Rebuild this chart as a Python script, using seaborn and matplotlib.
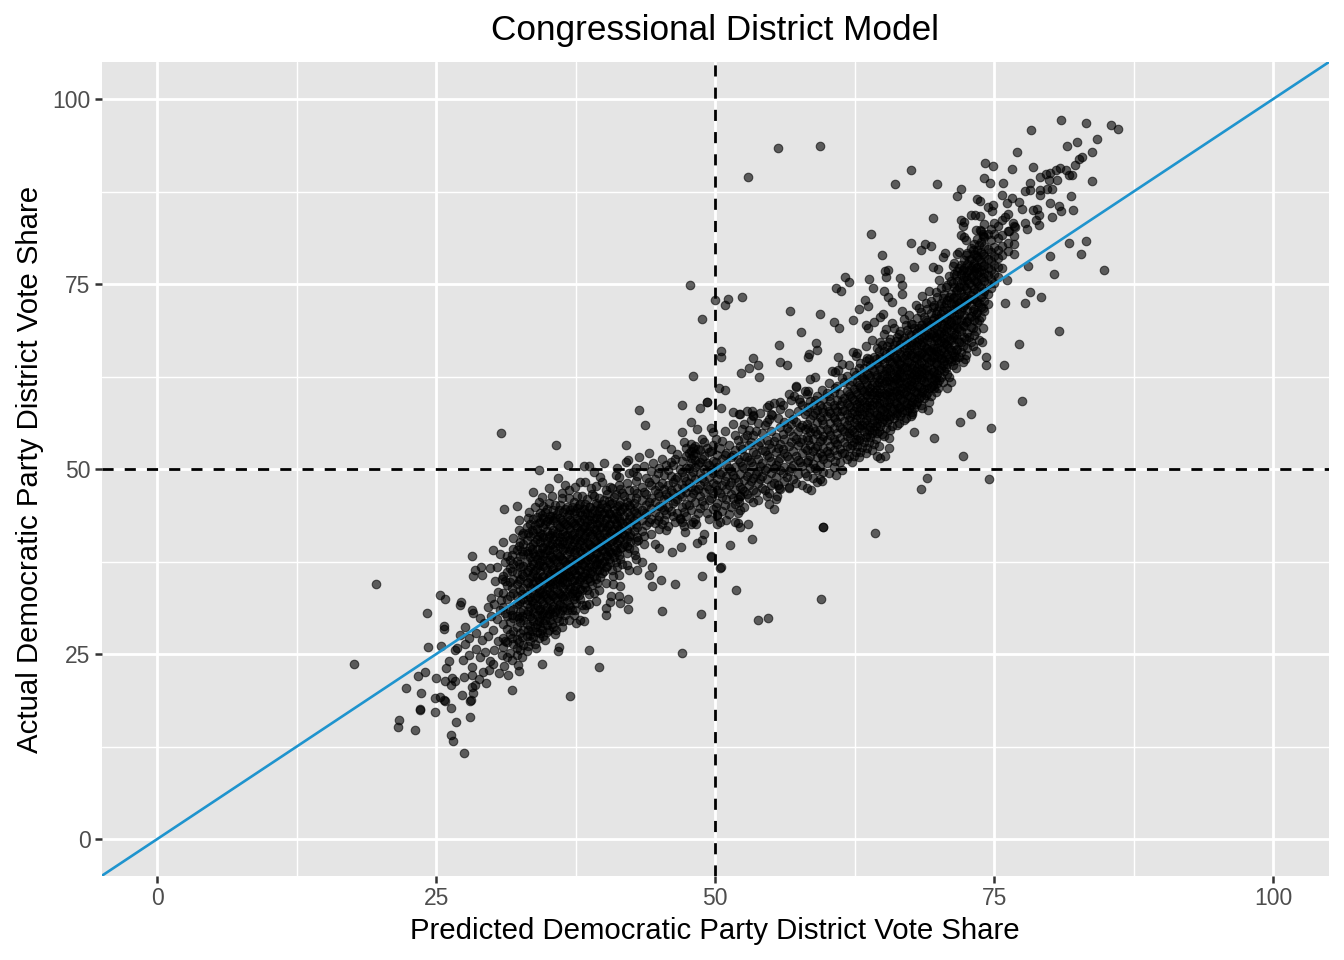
import matplotlib
matplotlib.use("Agg")
import matplotlib.pyplot as plt
import pandas as pd
import seaborn as sns

title = "Congressional District Model"
x_label = "Predicted Democratic Party District Vote Share"
y_label = "Actual Democratic Party District Vote Share"
major_ticks = [0, 25, 50, 75, 100]
minor_ticks = [12.5, 37.5, 62.5, 87.5]

tail_points = [(17.6,23.6),(19.6,34.4),(21.7,16.1),(21.6,15.2),(23.1,14.7),(22.3,20.4),(23.6,19.7),(23.5,17.6),(23.5,17.4),(24.9,17.2),(24.9,19),(25.3,19.2),(25.7,18.8),(25.8,18.6),(26.3,17.7),(26.8,15.8),(26.3,14),(26.5,13.2),(27.5,11.6),(28,16.5),(27.3,19.4),(28,18.6),(28.1,18.8),(28.3,19.7),(23.4,22),(24,22.6),(25,21.7),(25.8,21.4),(26.3,20.8),(26.7,21.4),(26.4,21.7),(27.5,21.9),(28.2,20.6),(28.5,20.8),(29.5,21.1),(29.2,22.6),(28.2,22.2),(28.2,23.3),(25.9,23.1),(26.1,24),(24.3,26),(25.4,26.1),(26.7,25.6),(26.9,25.8),(27.6,26.4),(24.2,30.5),(25.3,33),(25.8,32.4),(27.1,31.6),(27.2,32),(25.7,28.4),(25.7,28.8),(27.6,28.6),(28.2,31),(28.3,30.5),(28.2,38.3),(28.3,35.6),(28.5,36.4),(29,36.7),(29.1,35.7),(29.8,36.6),(30.4,36.8),(30.1,39.1),(30.7,38.5),(31.3,38.3),(31,40.2),(31.9,40.7),(31.1,44.6),(32.2,45),(30.8,54.9),(35.7,53.3),(34.2,49.9),(35.9,48.8),(36.8,50.6),(33.7,46.9),(34.2,45.6),(34.6,45),(33.3,44.2),(32.4,43.1),(32.8,41.3),(31.8,20.2),(37,19.3),(34.5,23.7),(32.4,22.7),(32.3,23.5),(31.1,23.4),(30.1,23.6),(38.7,25.6),(39.6,23.2),(47,25.2),(36,26),(35.9,25.4),(33.9,25.8),(33.1,25.4),(32.2,25.8),(28.9,24.6),(29.4,25.3),(29.8,24.1),(30.2,25.6),(30.5,26.8),(29.1,26.9),(28.6,27.8),(29.6,27.4),(30.1,28.3),(29.3,29.2),(28.9,29.8),(29.9,30.1),(30.4,29.7),(29.6,31.4),(30.2,31.8),(30.7,30.9),(29.9,32.6),(30.5,33.4),(30.8,32.3),(30.3,34.8),(30.9,35.1),(27.9,24.9),(27.4,24.2),(28.6,25.7),(27.9,27.1),(27.1,27.6),(30.6,22.4),(30.9,24.9),(29.7,22.9),(28.8,21.6),(31.4,22.2)]

right_of_core = [(40.8,35.5),(40.8,34.4),(41.5,34.2),(40.7,32.9),(41.4,32.9),(42.2,32.4),(40.6,32),(41.5,31.9),(42.2,31.1),(40.2,31.2),(40.2,30.3),(39.3,32.2),(38.4,31.6),(38.7,31.8),(37.5,31.9),(37.5,29.2),(37.9,29.6),(38.2,29.4),(35.7,28.3),(34.9,28),(34.3,27.9),(33.4,27.6),(45.2,30.8),(48.7,30.4),(46.4,34.4),(48.8,35.5),(44.3,34.2),(45.1,35),(44.3,36.7),(44.1,35.7),(43,36.3),(42.1,37),(43.4,37.5),(42.8,38.4),(42.1,39.6),(43.1,40.4),(43.6,39.9),(44.6,39.9),(45,39.3),(46.1,38.8),(46.9,39.5),(48.4,40),(48.8,40.4),(49.6,38.2),(47.3,41.5),(47.2,42.3),(47.8,42.6),(48.3,42.6),(46.8,43.2),(50.2,43.8),(50.4,36.6),(43.2,58),(43.7,56),(47,58.6),(48.6,58.3),(49.3,59),(47.8,56.3),(47,55),(48.4,55.4),(49.8,55),(42,53.2),(45.5,53.4),(46,52.7),(46.6,52),(44.1,52.1),(43.2,51.6),(42.2,51.2),(42,50.9),(40,50.8),(38.7,50.4),(38.2,50.4),(41.2,50.2),(44.4,50.8),(45.2,51.3),(46,51),(47.7,74.9),(48.8,70.3),(48,62.6),(53.8,29.6),(54.7,29.9),(59.5,32.4),(59.7,42.2),(51.9,33.6),(50.5,36.8),(49.6,38.1),(51.3,39.7),(50.9,60.7),(37.9,48.2),(38.9,47.4),(39.7,48.9),(36.9,47.1),(37.6,46.4),(40.6,47.6),(41.4,48.9),(42.6,49.6),(39.1,49.6),(35.4,46.4),(36.3,46.1)]

core_columns = [
 (31.0,[25.9,27.2,29.1,31.4,33.2,35.6]),
 (31.3,[24.6,26.6,28.4,30.2,32.5,34.3,36.1]),
 (31.6,[25.2,27.7,29.3,30.9,32.8,34.7,36.6,37.7]),
 (31.9,[26.3,28.1,29.8,31.1,33.3,35.2,37.1,39.2]),
 (32.2,[24.8,27.0,28.6,30.1,31.7,32.9,34.4,36.0,37.6,39.0]),
 (32.5,[25.6,27.9,29.3,30.7,32.2,33.6,35.1,36.7,38.2,40.1]),
 (32.8,[26.2,28.2,29.6,31.0,32.5,33.9,35.5,36.9,38.5,39.8]),
 (33.1,[27.5,29.1,30.4,31.8,33.1,34.6,36.1,37.4,38.9,40.4,42.1]),
 (33.4,[26.8,28.8,30.1,31.4,32.7,34.1,35.3,36.8,38.1,39.5,40.9,42.6]),
 (33.7,[27.3,29.4,30.7,31.9,33.3,34.5,35.9,37.2,38.6,39.9,41.3,43.2]),
 (34.0,[28.0,29.0,30.3,31.6,32.8,34.1,35.4,36.6,37.9,39.2,40.6,41.9,43.5]),
 (34.3,[28.6,29.9,31.1,32.4,33.6,34.8,36.2,37.4,38.7,40.1,41.4,42.8,44.1]),
 (34.6,[27.4,29.2,30.5,31.8,33.0,34.3,35.6,36.9,38.2,39.5,40.8,42.2,43.4]),
 (34.9,[28.9,30.1,31.3,32.6,33.8,35.1,36.4,37.7,39.0,40.3,41.6,43.0,44.6]),
 (35.2,[29.6,30.8,32.0,33.3,34.5,35.8,37.1,38.4,39.7,41.1,42.4,43.7]),
 (35.5,[28.7,30.3,31.5,32.8,34.0,35.3,36.6,37.9,39.2,40.5,41.8,43.1,44.5]),
 (35.8,[29.9,31.1,32.3,33.6,34.8,36.1,37.4,38.7,40.0,41.3,42.6,43.9]),
 (36.1,[30.6,31.8,33.1,34.3,35.6,36.9,38.2,39.5,40.8,42.1,43.4,45.2]),
 (36.4,[29.4,31.3,32.6,33.9,35.2,36.4,37.7,39.0,40.3,41.6,42.9,44.2]),
 (36.7,[30.9,32.2,33.4,34.7,36.0,37.2,38.5,39.8,41.1,42.4,43.7,44.8]),
 (37.0,[31.4,32.9,34.1,35.4,36.6,37.9,39.2,40.5,41.8,43.1,44.4]),
 (37.3,[30.3,32.5,33.7,35.0,36.3,37.5,38.8,40.1,41.4,42.7,44.0,45.6]),
 (37.6,[33.2,34.5,35.7,37.0,38.2,39.5,40.8,42.1,43.4,44.7]),
 (37.9,[32.4,33.8,35.1,36.4,37.7,39.0,40.3,41.6,42.9,44.2,45.3]),
 (38.2,[31.1,34.4,35.6,36.9,38.1,39.4,40.7,42.0,43.3,44.6]),
 (38.5,[33.6,35.2,36.4,37.7,38.9,40.2,41.5,42.8,44.1,45.9]),
 (38.8,[34.8,36.0,37.2,38.4,39.7,41.0,42.3,43.6,44.9]),
 (39.1,[33.3,35.6,36.8,38.0,39.3,40.6,41.9,43.2,44.5,46.3]),
 (39.4,[34.6,36.3,37.5,38.7,40.0,41.3,42.6,43.9,45.2]),
 (39.7,[35.4,37.1,38.3,39.6,40.8,42.1,43.4,44.7]),
 (40.0,[36.2,37.6,38.9,40.1,41.4,42.7,44.0,45.8]),
 (40.3,[36.9,38.3,39.5,40.8,42.1,43.4,44.6,46.6]),
 (40.6,[37.4,38.8,40.1,41.3,42.6,43.9,45.3]),
 (40.9,[38.1,39.4,40.6,41.9,43.2,44.5,46.2]),
 (41.2,[36.7,38.8,40.0,41.2,42.4,43.7,45.0]),
 (41.5,[37.9,39.3,40.7,41.8,43.0,44.3,45.6,47.3]),
 (41.8,[39.9,41.1,42.3,43.6,44.9,46.4]),
 (42.1,[38.6,40.6,41.7,42.9,44.2,45.5,48.1]),
 (42.4,[40.2,41.2,42.5,43.7,44.8,46.1]),
 (42.7,[39.1,41.6,43.1,44.3,45.4,47.2]),
 (43.0,[40.8,42.2,43.6,44.9,46.7,49.1]),
]

core_infill = [
 (31.17,[26.7,30.6,34.9,37.4]),
 (31.77,[24.2,27.1,30.3,33.9,36.2,38.4]),
 (32.37,[26.6,29.9,31.9,34.8,37.1,39.6,41.7]),
 (32.67,[24.6,27.3,30.1,33.1,35.8,38.9,41.1]),
 (33.23,[26.1,28.3,30.8,32.3,34.7,36.3,38.6,41.4,43.4]),
 (33.57,[28.1,29.8,32.1,33.8,35.6,37.6,39.2,41.8]),
 (33.87,[26.4,28.6,31.2,32.6,34.9,36.3,38.3,40.2,42.5,44.8]),
 (34.17,[27.2,29.5,30.9,33.2,35.0,37.0,38.4,40.9,42.7]),
 (34.47,[28.3,30.3,32.1,33.4,35.4,37.7,39.3,41.2,43.8,46.2]),
 (34.77,[26.9,29.6,31.0,33.1,34.6,36.7,38.6,40.0,42.6,44.2]),
 (35.07,[28.2,30.4,32.3,34.1,35.5,37.4,39.1,40.8,43.3,45.4,47.4]),
 (35.37,[29.1,31.1,33.0,34.9,36.3,38.1,39.9,41.4,43.6]),
 (35.67,[27.7,30.7,32.7,34.4,35.9,37.8,39.4,41.0,43.4,45.1]),
 (35.97,[29.4,31.6,33.3,35.1,36.8,38.3,40.3,42.2,44.4]),
 (36.27,[28.6,30.9,32.9,34.7,36.0,37.9,39.8,41.2,43.1,46.8]),
 (36.57,[30.3,32.8,34.4,35.7,37.4,39.3,40.9,42.6,44.6,47.9]),
 (36.87,[29.6,31.6,33.8,35.6,37.0,38.9,40.4,42.0,43.9,46.1]),
 (37.17,[31.0,33.3,34.8,36.2,37.9,39.6,41.1,42.9,44.8]),
 (37.47,[30.9,32.9,34.2,36.0,37.3,39.1,40.6,42.4,44.3,47.6]),
 (37.77,[33.0,34.9,36.4,37.8,39.8,41.3,43.1,45.2]),
 (38.07,[31.6,33.6,35.4,37.1,38.7,40.4,41.9,43.8,46.3]),
 (38.37,[34.1,35.9,37.4,39.1,40.9,42.3,44.1,45.3,48.2]),
 (38.67,[33.1,35.3,36.8,38.3,39.9,41.6,43.1,44.9]),
 (38.97,[34.3,36.2,37.9,39.5,41.2,42.7,44.0,46.6]),
 (39.27,[35.1,37.2,38.6,40.1,41.7,43.4,45.4,47.7]),
 (39.57,[33.6,36.4,37.9,39.4,41.1,42.8,44.3,46.1]),
 (39.87,[35.9,37.3,39.1,40.4,42.2,43.9,45.3,48.3]),
 (40.17,[34.6,36.8,38.4,39.9,41.8,43.2,44.8,47.1]),
 (40.47,[37.8,39.1,41.0,42.4,44.1,45.7]),
 (40.77,[36.4,38.6,40.3,41.6,43.4,45.4,47.4]),
 (41.07,[37.4,39.1,41.1,42.7,44.0,46.6,49.2]),
 (41.37,[35.7,38.4,40.4,41.9,43.4,45.2,47.9]),
 (41.67,[37.1,39.4,41.3,42.7,44.6,46.7]),
 (42.27,[36.3,39.3,41.0,43.3,45.2,47.1,49.4]),
 (42.87,[37.9,40.3,42.6,44.0,46.1,48.4,50.1]),
]

band_columns = [
 (43.4,[41.6,43.1,44.5,45.8,47.6]),
 (43.8,[42.4,43.9,45.2,46.6,48.8]),
 (44.2,[41.2,43.3,44.7,46.1,47.9,49.7]),
 (44.6,[42.7,44.2,45.5,47.1,48.6]),
 (45.0,[41.9,43.7,45.0,46.4,47.7,50.1]),
 (45.4,[43.1,44.4,45.9,47.3,49.2]),
 (45.8,[42.3,44.9,46.2,47.8,49.9]),
 (46.2,[43.6,45.4,46.8,48.3,50.6]),
 (46.6,[44.1,45.9,47.4,48.9]),
 (47.0,[42.9,44.8,46.3,47.9,49.6,51.1]),
 (47.4,[43.7,45.3,46.9,48.4,50.2,51.8,52.9]),
 (47.8,[44.4,46.2,47.6,49.1,50.8,51.5,52.4,53.4]),
 (48.2,[43.2,45.6,47.1,48.7,50.3,51.2,52.1,53.1]),
 (48.6,[44.7,46.4,47.9,49.4,51.0,52.6]),
 (49.0,[41.2,45.2,46.9,48.4,50.0,51.7,53.6]),
 (49.4,[43.3,45.8,47.3,48.9,50.5,52.3]),
 (49.8,[44.6,46.7,48.1,49.4,51.1,53.2]),
 (50.2,[42.6,45.4,47.2,48.7,50.3,51.9]),
 (50.6,[44.3,46.2,47.8,49.6,51.4,53.8]),
 (51.0,[43.1,45.9,47.3,49.0,50.7,52.2]),
 (51.4,[44.9,46.6,48.2,49.7,51.6]),
 (51.8,[42.9,45.3,47.1,48.8,50.3,52.6,54.6]),
 (52.2,[46.3,47.6,49.3,50.9,53.1,57.5]),
 (52.6,[44.8,47.0,48.5,50.1,51.7,54.2,56.1]),
 (53.0,[46.1,47.9,49.6,51.2,53.3,55.3]),
 (53.4,[47.2,48.8,50.4,52.3,54.6,57.1]),
 (53.8,[45.8,48.1,49.7,51.4,53.2,56.2]),
 (54.2,[47.4,49.1,50.8,52.6,54.8]),
 (54.6,[46.4,48.6,50.2,51.9,53.9,56.4,58.4]),
 (55.0,[47.8,49.4,51.1,52.8,55.2,57.4]),
 (55.4,[45.9,48.9,50.6,52.3,54.3]),
 (55.8,[47.3,49.9,51.5,53.4,55.7,58.1]),
 (56.2,[48.4,50.3,52.1,54.1,56.3]),
 (56.6,[47.6,49.7,51.3,53.1,55.1,57.6,60.2]),
 (57.0,[48.7,50.6,52.4,54.4,56.7]),
 (57.4,[49.3,51.2,53.2,55.2,57.9]),
 (57.8,[47.9,50.4,52.1,54.0,56.0,58.6]),
]

band_infill = [
 (43.62,[40.9,44.1,46.9,50.4]),(44.07,[42.9,45.6,48.3]),(44.83,[43.1,46.7,49.4]),(45.23,[42.6,44.8,48.1]),
 (45.63,[41.7,43.9,46.6,50.6]),(46.03,[44.3,47.1,49.1]),(46.43,[42.8,45.7,48.7,51.4]),(46.83,[43.4,46.6,50.0]),
 (47.23,[44.2,47.4,48.9,53.6]),(47.63,[45.1,48.1,50.1,52.1]),(48.03,[42.9,46.7,49.6,51.9,52.9]),(48.43,[44.0,47.3,50.7,52.7]),
 (48.83,[45.7,48.8,51.4,54.1]),(49.23,[44.1,47.7,50.8,52.9]),(49.63,[46.1,49.9,52.5,55.6]),(50.03,[44.8,47.9,50.9,54.1]),
 (50.43,[42.9,46.8,49.3,52.8]),(50.83,[45.1,48.4,51.9,55.1]),(51.23,[43.9,47.9,50.2,53.3]),(51.63,[46.1,49.2,51.9,56.1]),
 (52.03,[45.9,48.2,51.3,53.9]),(52.43,[47.3,50.4,52.7,55.4]),(52.83,[46.6,49.1,51.6,54.6,57.9]),(53.23,[48.4,50.9,53.7,56.6]),
 (53.63,[46.9,49.3,52.0,55.1]),(54.03,[48.6,50.4,53.6,57.6]),(54.43,[47.1,49.8,52.4,55.9]),(54.83,[46.8,51.6,53.4,56.7]),
 (55.23,[48.1,50.2,53.8,58.9]),(55.63,[47.9,51.1,52.9,56.9]),(56.03,[49.4,52.7,54.7,58.7]),(56.43,[48.9,51.8,55.6]),
 (56.83,[50.1,53.7,56.1,59.3]),(57.23,[48.1,51.7,54.0,56.4,61.1]),(57.63,[50.9,53.6,55.7,59.1]),(58.03,[49.4,52.8,55.4,57.4,60.6]),
]

blob_columns = [
 (58.2,[49.1,50.9,52.6,54.3,56.1,57.8]),
 (58.5,[50.2,51.8,53.3,55.0,56.7,59.2]),
 (58.8,[48.8,50.7,52.4,54.0,55.6,57.3,58.6]),
 (59.1,[49.9,51.6,53.1,54.7,56.4,58.0,59.8]),
 (59.4,[50.6,52.2,53.8,55.3,57.0,58.7]),
 (59.7,[49.6,51.3,52.9,54.5,56.1,57.7,59.4]),
 (60.0,[50.8,52.4,53.9,55.4,57.1,58.5,60.3]),
 (60.3,[51.6,53.1,54.6,56.2,57.6,59.2]),
 (60.6,[50.3,52.6,54.0,55.5,57.0,58.6,60.4]),
 (60.9,[51.9,53.4,54.8,56.3,57.8,59.3,61.2]),
 (61.2,[50.9,52.7,54.2,55.7,57.2,58.7,60.2]),
 (61.5,[52.2,53.6,55.1,56.5,58.0,59.6,61.7]),
 (61.8,[51.3,53.1,54.5,56.0,57.4,58.9,60.6,62.6]),
 (62.1,[52.8,54.2,55.6,57.0,58.4,59.9,61.4]),
 (62.4,[51.7,53.6,55.0,56.4,57.8,59.3,60.8,63.1]),
 (62.7,[53.1,54.6,56.0,57.3,58.8,60.2,61.8]),
 (63.0,[52.3,54.2,55.5,56.9,58.2,59.6,61.1,62.7,64.3]),
 (63.3,[53.6,55.1,56.4,57.8,59.1,60.5,62.1,63.6]),
 (63.6,[52.9,54.7,56.0,57.3,58.7,60.0,61.4,62.9,65.0]),
 (63.9,[54.3,55.7,57.0,58.2,59.6,60.9,62.4,64.1]),
 (64.2,[53.4,55.3,56.6,57.9,59.1,60.4,61.8,63.3,65.2]),
 (64.5,[51.7,54.9,56.2,57.5,58.7,60.0,61.3,62.7,64.3,66.3]),
 (64.8,[55.8,57.1,58.3,59.5,60.8,62.1,63.5,65.1,67.1]),
 (65.1,[54.4,56.7,57.9,59.1,60.3,61.6,62.9,64.3,65.9,68.2]),
 (65.4,[56.3,57.6,58.8,60.0,61.1,62.4,63.7,65.0,66.6]),
 (65.7,[55.3,57.2,58.4,59.5,60.7,61.9,63.2,64.4,65.8,67.6]),
 (66.0,[56.9,58.1,59.2,60.4,61.6,62.8,64.0,65.3,66.7,69.1]),
 (66.3,[55.9,57.6,58.7,59.9,61.1,62.3,63.5,64.7,66.1,67.9]),
 (66.6,[57.1,58.4,59.6,60.7,61.9,63.1,64.3,65.5,66.9,68.6]),
 (66.9,[56.6,58.0,59.2,60.3,61.5,62.6,63.8,65.0,66.3,67.7,70.3]),
 (67.2,[57.8,58.9,60.0,61.1,62.3,63.4,64.6,65.8,67.1,68.8]),
 (67.5,[57.2,58.6,59.7,60.8,61.9,63.0,64.2,65.4,66.7,68.1,69.6]),
 (67.8,[58.3,59.4,60.6,61.7,62.8,64.0,65.2,66.3,67.6,69.0]),
 (68.1,[59.1,60.2,61.3,62.4,63.6,64.8,66.0,67.2,68.5,70.4]),
 (68.4,[58.6,59.9,61.0,62.1,63.2,64.4,65.6,66.8,68.0,69.4,71.2]),
 (68.7,[59.6,60.8,61.9,63.0,64.2,65.4,66.6,67.8,69.1,70.6]),
 (69.0,[60.3,61.4,62.6,63.8,65.0,66.2,67.4,68.6,69.9,71.6]),
 (69.3,[59.8,61.1,62.3,63.5,64.7,65.9,67.1,68.3,69.6,71.1,72.7]),
 (69.6,[60.9,62.1,63.2,64.4,65.6,66.8,68.0,69.2,70.4,72.2]),
 (69.9,[61.6,62.8,64.0,65.2,66.4,67.5,68.7,69.9,71.3,73.3]),
 (70.2,[62.4,63.7,64.9,66.1,67.3,68.5,69.7,70.9,72.4,74.4]),
 (70.5,[63.3,64.6,65.8,67.0,68.2,69.4,70.6,71.9,73.6]),
 (70.8,[62.9,64.2,65.5,66.7,67.9,69.1,70.3,71.5,72.8,74.9]),
 (71.1,[64.6,66.1,67.4,68.7,69.9,71.1,72.4,73.7,75.4]),
 (71.4,[65.3,66.8,68.1,69.4,70.7,72.0,73.3,74.6,76.3]),
 (71.7,[66.2,67.6,69.0,70.3,71.6,72.9,74.2,75.4,76.7]),
 (72.0,[65.8,67.2,68.7,70.1,71.4,72.7,73.9,75.1,76.4,77.6]),
 (72.3,[67.9,69.3,70.8,72.2,73.4,74.7,75.9,77.1,78.3]),
 (72.6,[66.4,68.4,70.0,71.5,72.9,74.2,75.5,76.6,77.7,79.2]),
 (72.9,[67.2,69.2,70.7,72.1,73.5,74.8,76.0,77.1,78.4,79.9]),
 (73.2,[68.1,70.2,71.6,73.0,74.3,75.6,76.7,77.8,79.1,80.4]),
 (73.5,[69.8,71.2,72.6,74.0,75.2,76.3,77.3,78.6,79.6,81.1]),
 (73.8,[70.6,71.9,73.3,74.6,75.8,76.9,78.0,79.3,80.7,82.2]),
 (74.1,[71.4,72.7,74.1,75.4,76.5,77.6,78.8,80.1,81.3,83.1]),
 (74.4,[72.3,73.6,75.0,76.2,77.2,78.4,79.7,81.8]),
 (74.7,[74.4,75.7,76.9,78.1,79.3,80.9,82.4]),
 (75.0,[75.1,76.4,77.6,78.8,80.0,81.7,83.3]),
 (75.3,[76.0,77.3,78.5,79.6,81.2,82.9]),
 (75.7,[77.2,78.9,80.1,81.6,83.6]),
 (76.2,[79.4,80.6,82.1,84.4]),
 (76.8,[79.1,80.4,81.5,82.9]),
]

blob_infill = [
 (58.33,[51.2,53.9,55.6,58.4,60.6]),(58.97,[50.1,52.9,55.1,57.6,59.3,62.4]),(59.57,[48.4,51.7,54.1,56.6,58.2,60.7]),
 (60.17,[49.4,52.1,55.1,57.9,59.8,61.6]),(60.77,[51.1,53.6,56.7,58.2,60.9,63.1]),(61.37,[49.9,52.1,55.4,57.9,59.2,62.3]),
 (61.97,[51.7,54.9,56.6,58.7,60.2,64.1]),(62.27,[50.9,53.2,55.3,57.6,59.6,61.9]),(62.57,[52.3,54.1,56.8,58.4,60.4,62.7,65.3]),
 (62.87,[51.6,53.9,55.7,57.9,59.1,61.3,63.6]),(63.17,[53.0,55.9,57.4,59.3,60.7,62.4]),(63.47,[52.1,54.3,56.6,58.4,60.2,61.8,64.6,66.6]),
 (63.77,[53.6,55.3,57.7,59.1,60.6,62.7,64.8]),(64.07,[52.6,54.9,56.2,58.6,60.1,61.4,63.7,67.4]),(64.37,[54.1,55.8,57.3,59.4,60.7,62.4,64.9]),
 (64.67,[53.1,55.2,56.9,58.9,60.3,61.7,63.9,65.9]),(64.97,[54.7,56.4,58.1,59.9,61.3,62.7,64.8,66.8]),(65.27,[55.6,57.2,58.4,60.2,61.9,63.3,65.6,68.9]),
 (65.57,[54.2,56.8,59.1,60.4,62.0,63.7,65.3,67.1]),(65.87,[55.8,57.9,59.8,61.2,62.4,64.4,66.2,69.7]),(66.17,[57.3,58.9,60.6,62.2,63.2,65.0,67.3]),
 (66.47,[56.2,58.3,60.1,61.6,62.9,64.2,66.4,68.2]),(66.77,[57.7,59.4,60.9,62.4,63.6,65.2,67.4,71.4]),(67.07,[56.9,58.6,60.6,61.8,63.8,65.4,66.7,69.4]),
 (67.37,[58.3,59.9,61.4,62.9,64.4,66.1,68.2,70.8]),(67.67,[57.7,59.1,61.2,62.4,63.7,65.7,67.2,69.6]),(67.97,[58.8,60.4,62.1,63.2,65.0,66.8,68.4,72.1]),
 (68.27,[59.6,61.1,62.8,64.2,65.4,67.6,69.1,71.7]),(68.57,[58.2,60.4,62.4,63.6,65.8,67.1,69.4,73.4]),(68.87,[60.0,61.7,63.4,65.1,66.4,68.1,70.1,72.4]),
 (69.17,[59.1,60.9,62.9,64.4,66.0,67.8,69.4,74.1]),(69.47,[61.3,63.1,65.2,66.4,68.4,70.2,71.9]),(69.77,[60.4,62.4,64.3,65.9,67.9,69.4,70.9,73.9]),
 (70.07,[62.0,63.4,65.6,67.1,68.3,70.4,72.0,75.6]),(70.37,[61.7,64.1,66.4,67.7,69.1,71.4,73.1]),(70.67,[63.7,65.1,66.9,68.6,70.1,72.4,74.6]),
 (70.97,[62.4,64.9,66.3,67.4,69.6,70.9,73.2,76.1]),(71.27,[64.1,65.8,67.8,69.2,71.6,73.1,75.1,77.4]),(71.57,[63.6,66.1,68.2,70.1,72.2,74.1,76.2]),
 (71.87,[65.1,67.1,68.9,70.9,72.4,74.6,77.1,79.3]),(72.17,[64.4,66.6,69.4,71.9,73.3,75.6,76.9]),(72.47,[65.4,67.6,69.9,72.4,74.4,76.1,78.9,80.9]),
 (72.77,[67.9,70.4,73.0,75.1,76.9,78.2]),(73.07,[66.6,69.1,71.4,73.8,76.2,77.4,79.6]),(73.37,[68.7,70.9,72.8,75.4,77.1,78.9,82.3]),
 (73.67,[67.4,70.1,72.4,74.7,76.6,78.4,80.3]),(73.97,[69.1,71.8,73.6,75.9,77.4,79.1,81.7]),
]

upper_points = [(55.6,93.4),(59.4,93.6),(52.9,89.5),(81,97.2),(83.2,96.7),(85.5,96.5),(86.1,96),(78.3,95.8),(82.4,94.2),(81.5,93.6),(84.2,94.6),(83.8,92.8),(77,92.8),(82.9,92.2),(82.6,91.9),(82.2,91.1),(74.2,91.3),(74.9,90.9),(76.6,90.6),(78.5,90.8),(67.5,90.4),(66.1,88.5),(69.9,88.5),(72,87.8),(71.7,86.9),(74.1,89.3),(74.6,88.7),(75.8,88.6),(83.8,88.9),(80.9,90.7),(80.5,90.4),(80,90),(79.6,89.9),(79.1,89.4),(79.9,89),(80.6,89),(81.7,89.7),(82,89.7),(81.4,90.4),(78.2,88.6),(77.8,87.6),(78.2,87.7),(79.1,87.7),(79.7,87.8),(80.2,87.9),(79.1,87),(81.9,86.9),(80,85.9),(80.8,85.5),(81,84.9),(82.1,85),(80.2,84.1),(78.8,85.2),(78.5,85),(79,84.3),(78.7,83.6),(79,83),(77.8,83.2),(75.7,87),(76.6,86.6),(76.1,85.9),(77.2,86.1),(77.5,85.2),(73.5,86.5),(73.7,86.2),(74.9,85.7),(74.4,85.4),(74.8,84.8),(76,84),(76.7,83.2),(76.9,82.7),(77.9,82.4),(76.3,82.2),(73.3,84.3),(73.7,84.2),(72.9,84.3),(72.3,83.4),(72,83.6),(72.2,82.9),(69.5,83.9),(64,81.7),(67.5,80.5),(68.4,79.6),(68.8,80.4),(69.3,80.2),(64.9,78.9),(70.6,79.2),(70.4,78.6),(71.7,79),(72,81.6),(72.3,81.4),(73.7,82.3),(74,81.5),(65.5,76.9),(65.2,76.7),(67.8,77.3),(69.5,77.3),(70,77),(71.4,77.8),(61.6,76),(62,75.3),(63.8,75.7),(60.8,74.4),(61.3,74.1),(64.1,74.5),(65.1,74),(65.3,76),(66.6,75.8),(66.7,74.8),(65.5,73.3),(65.8,72.6),(66.7,73.6),(63.4,72.8),(63.7,72),(62.9,71.6),(52.4,73.3),(51.1,73),(50.9,72.2),(50,72.8),(56.7,71.3),(59.4,71),(60.6,69.8),(61.1,69),(62.3,70.2),(63.5,69.5),(63.7,69.1),(64.2,69.9),(64.8,70.6),(65,71),(57.7,68.5),(55.7,66.8),(59,67),(59.1,66.1),(58.4,65.5),(58.3,65.1),(50.5,66),(50.5,65.2),(53.4,65),(53.8,64),(53,63.6),(52.3,63),(53.9,62.4),(55.8,64.4),(56.4,64.1),(61,65.2),(61.4,64.2),(60.5,63.2),(61,63.4),(62.3,65.8),(62.7,65.7),(58.5,62.2),(50.3,60.9),(57.2,61.2),(57.1,59.9),(57.5,59.5),(58.2,60.1),(49.3,59),(54.8,58.7),(55.8,59),(50.5,58.2),(51.6,57.7),(52.1,57.5),(53.3,57.9),(53.4,57.3),(55.1,57.3)]

lower_right_points = [(84.8,76.9),(83.2,80.8),(81.7,80.6),(82.8,79),(80,78.8),(80.4,76.3),(78.2,73.9),(79.2,73.2),(77.8,72.4),(76,72.5),(76.1,75.5),(78,77.4),(80.8,68.7),(77.2,66.9),(75.9,64),(74.3,64),(74.3,65.2),(73.4,65.9),(73.9,67.1),(77.5,59.2),(72.9,57.5),(71.9,56.4),(74.7,55.6),(67.8,55),(69.6,54.2),(72.2,51.8),(65.6,52.9),(64.8,51.5),(65.2,51.8),(69,48.8),(68.4,47.3),(74.5,48.6),(69.1,58),(67.6,57.4),(71.1,61.8),(70.8,61),(70,61),(69.7,62),(72.4,64.9),(71.5,64.7),(71.6,65.2),(70.3,65),(59.7,42.1),(64.3,41.4),(60.8,49.2),(59.4,48.7),(59.1,48.3),(58.2,47.5),(58.6,47.2),(56.6,47.5),(55.7,47.4),(55.5,46.4),(54.8,45.3),(55.3,44.6),(53.4,45.6),(52.2,46.3),(52.1,45.6),(52.2,44.5),(52,44),(52,42.7),(52.2,42.2),(52.9,42.6),(53.3,40.5),(50.2,43.8)]

rows = list(tail_points) + list(right_of_core) + list(upper_points) + list(lower_right_points)
for columns in (core_columns, core_infill, band_columns, band_infill, blob_columns, blob_infill):
    for predicted, actuals in columns:
        rows.extend((predicted, actual) for actual in actuals)
df = pd.DataFrame(rows, columns=["predicted", "actual"])

sns.set_theme(style="darkgrid", rc={"axes.facecolor": "#E5E5E5", "figure.facecolor": "white"})
plt.rcParams["font.family"] = ["Liberation Sans", "DejaVu Sans"]

fig = plt.figure(figsize=(13.44, 9.6), dpi=100)
ax = fig.add_axes([101.5 / 1344, 1 - 876 / 960, (1329 - 101.5) / 1344, (876 - 62) / 960])
ax.set_xlim(-5, 105)
ax.set_ylim(-5, 105)
ax.set_axisbelow(True)
for side in ax.spines.values():
    side.set_visible(False)
ax.set_xticks(major_ticks)
ax.set_yticks(major_ticks)
ax.set_xticks(minor_ticks, minor=True)
ax.set_yticks(minor_ticks, minor=True)
ax.grid(which="major", color="white", linewidth=2.0)
ax.grid(which="minor", color="white", linewidth=1.0)
ax.tick_params(which="minor", length=0)
ax.tick_params(which="major", length=5, width=1.8, color="#333333",
               labelcolor="#4D4D4D", labelsize=16.5, pad=3, bottom=True, left=True)

ax.axhline(50, color="black", linewidth=2, linestyle=(0, (4, 4)), zorder=1.5)
ax.axvline(50, color="black", linewidth=2, linestyle=(0, (4, 4)), zorder=1.5)
sns.scatterplot(data=df, x="predicted", y="actual", color="black", alpha=0.6,
                s=38, linewidth=0.8, edgecolor="black", ax=ax, zorder=2)
ax.axline((0, 0), slope=1, color="#1F94CE", linewidth=1.9, zorder=3)

ax.set_xlabel(x_label, fontsize=21.2, color="black", labelpad=5)
ax.set_ylabel(y_label, fontsize=21.2, color="black", labelpad=6)
ax.set_title(title, fontsize=25.3, color="black", pad=16)
fig.savefig("out.png", dpi=100)
